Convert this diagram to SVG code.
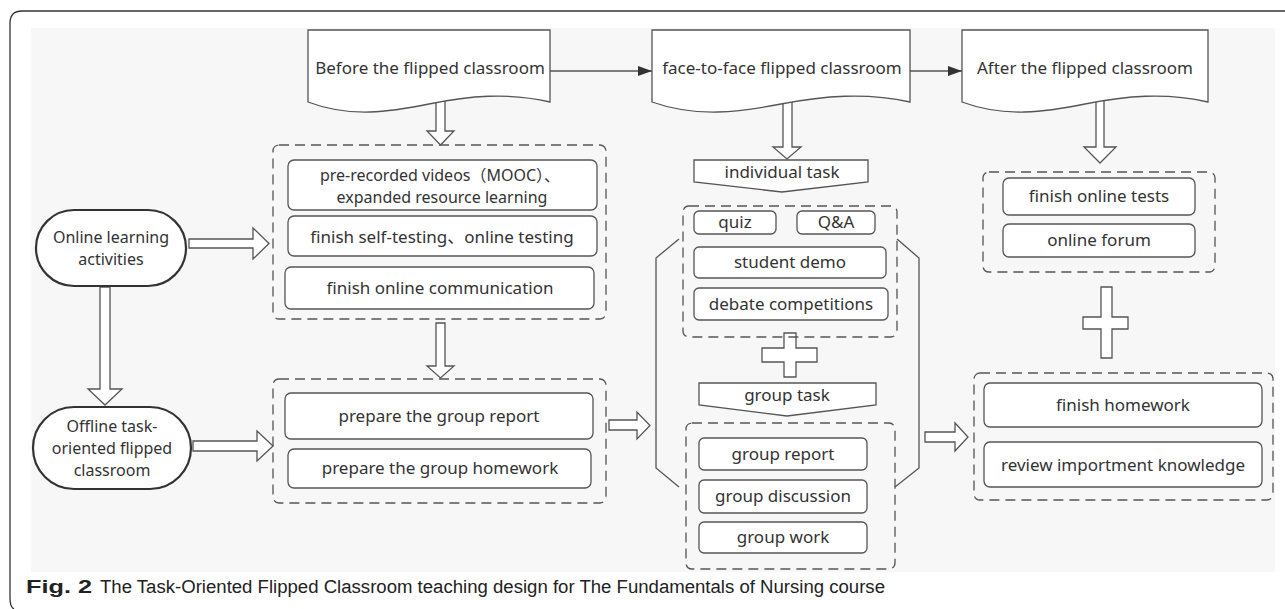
<svg xmlns="http://www.w3.org/2000/svg" width="1285" height="609" viewBox="0 0 1285 609">
<style>
  .t { font-family: "Noto Sans", "Noto Sans CJK SC", sans-serif; font-size: 17px; fill: #333; text-anchor: middle; }
  .m { font-size: 16px; }
  .box { fill: #fff; stroke: #555; stroke-width: 1.3; }
  .dash { fill: none; stroke: #555; stroke-width: 1.3; stroke-dasharray: 10 6; }
  .pill { fill: #fff; stroke: #333; stroke-width: 2.2; }
  .doc { fill: #fff; stroke: #555; stroke-width: 1.3; }
  .blk { fill: #fff; stroke: #555; stroke-width: 1.3; stroke-linejoin: miter; }
  .ln { fill: none; stroke: #555; stroke-width: 1.3; }
  .cap { font-family: "Liberation Sans", Arial, sans-serif; font-size: 18px; fill: #222; }
</style>
<defs>
  <marker id="ah" markerWidth="14" markerHeight="10" refX="14" refY="5" orient="auto" markerUnits="userSpaceOnUse">
    <path d="M0,0 L14,5 L0,10 Z" fill="#333"/>
  </marker>
</defs>
<rect x="0" y="0" width="1285" height="609" fill="#fff"/>
<path d="M1285,11 H22 Q10,11 10,23 V598 Q10,607 14,609" fill="none" stroke="#333" stroke-width="1.3"/>
<rect x="31" y="28" width="1244" height="544" fill="#f7f7f7"/>

<g id="connectors">
  <line class="ln" x1="550" y1="71" x2="652" y2="71" marker-end="url(#ah)"/>
  <line class="ln" x1="910" y1="71" x2="962" y2="71" marker-end="url(#ah)"/>
  <path class="blk" d="M436,100 V131 H427 L440.5,145 L454,131 H445 V100 Z"/>
  <path class="blk" d="M436,323 V366 H427 L440.5,378 L454,366 H445 V323 Z"/>
  <path class="blk" d="M783,100 V147 H773 L787,159 L801,147 H792 V100 Z"/>
  <path class="blk" d="M1096,97 V147 H1084 L1100,163 L1116,147 H1104 V97 Z"/>
  <path class="blk" d="M189,239 H253 V228 L269,243.5 L253,259 V248 H189 Z"/>
  <path class="blk" d="M100,287 V389 H88 L105,405 L122,389 H110 V287 Z"/>
  <path class="blk" d="M193,441 H257 V431 L273,446 L257,461 V451 H193 Z"/>
  <path class="blk" d="M609,420 H637 V412 L650,425.5 L637,439 V430 H609 Z"/>
  <path class="blk" d="M925,432 H955 V423 L968,437 L955,451 V442 H925 Z"/>
  <path class="blk" d="M784,333 H796 V348 H817 V362 H796 V377 H784 V362 H762 V348 H784 Z"/>
  <path class="blk" d="M1101,287 H1112 V317 H1128 V329 H1112 V358 H1101 V329 H1083 V317 H1101 Z"/>
  <path class="ln" d="M679,239 L656,258 V468 L679,487"/>
  <path class="ln" d="M897,239 L919,258 V468 L895,487"/>
</g>

<g id="doc-before">
  <path class="doc" d="M308,30 H550 V102 C508,92 468,96 429,104 C390,112 350,118 308,102 Z"/>
  <text class="t" x="430" y="74">Before the flipped classroom</text>
</g>
<g id="doc-face">
  <path class="doc" d="M652,30 H910 V102 C865,92 823,96 781,104 C740,112 697,118 652,102 Z"/>
  <text class="t" x="782" y="74">face-to-face flipped classroom</text>
</g>
<g id="doc-after">
  <path class="doc" d="M962,30 H1208 V102 C1165,92 1125,96 1085,104 C1046,112 1005,118 962,102 Z"/>
  <text class="t" x="1085" y="74">After the flipped classroom</text>
</g>

<g id="online">
  <rect class="pill" x="36" y="210" width="150" height="76" rx="38"/>
  <text class="t m" x="111" y="243">Online learning</text>
  <text class="t m" x="111" y="265">activities</text>
</g>
<g id="offline">
  <rect class="pill" x="33" y="407" width="158" height="82" rx="41"/>
  <text class="t m" x="112" y="432">Offline task-</text>
  <text class="t m" x="112" y="454">oriented flipped</text>
  <text class="t m" x="112" y="476">classroom</text>
</g>

<g id="pre-group">
  <rect class="dash" x="273" y="145" width="333" height="174" rx="6"/>
  <rect class="box" x="288" y="160" width="309" height="50" rx="6"/>
  <text class="t m" x="440" y="181">pre-recorded videos（MOOC）、</text>
  <text class="t m" x="442" y="203">expanded resource learning</text>
  <rect class="box" x="288" y="216" width="309" height="40" rx="6"/>
  <text class="t" x="442" y="243">finish self-testing、online testing</text>
  <rect class="box" x="285" y="267" width="309" height="42" rx="6"/>
  <text class="t" x="440" y="294">finish online communication</text>
</g>
<g id="prepare-group">
  <rect class="dash" x="273" y="379" width="333" height="124" rx="6"/>
  <rect class="box" x="285" y="393" width="308" height="46" rx="6"/>
  <text class="t" x="439" y="422">prepare the group report</text>
  <rect class="box" x="288" y="449" width="303" height="39" rx="6"/>
  <text class="t" x="440" y="474">prepare the group homework</text>
</g>

<g id="individual-task">
  <path class="box" d="M694,160 H868 V182 L782,192 L694,182 Z"/>
  <text class="t" x="782" y="178">individual task</text>
</g>
<g id="individual-group">
  <rect class="dash" x="683" y="206" width="214" height="131" rx="6"/>
  <rect class="box" x="694" y="211" width="82" height="23" rx="5"/>
  <text class="t" x="735" y="228">quiz</text>
  <rect class="box" x="797" y="211" width="78" height="23" rx="5"/>
  <text class="t" x="836" y="228">Q&amp;A</text>
  <rect class="box" x="694" y="247" width="192" height="31" rx="5"/>
  <text class="t" x="790" y="268">student demo</text>
  <rect class="box" x="694" y="288" width="194" height="32" rx="5"/>
  <text class="t" x="791" y="310">debate competitions</text>
</g>
<g id="group-task">
  <path class="box" d="M699,383 H876 V405 L787,416 L699,405 Z"/>
  <text class="t" x="787" y="401">group task</text>
</g>
<g id="group-group">
  <rect class="dash" x="686" y="423" width="209" height="146" rx="6"/>
  <rect class="box" x="699" y="438" width="168" height="32" rx="5"/>
  <text class="t" x="783" y="460">group report</text>
  <rect class="box" x="699" y="480" width="168" height="33" rx="5"/>
  <text class="t" x="783" y="502">group discussion</text>
  <rect class="box" x="699" y="522" width="168" height="31" rx="5"/>
  <text class="t" x="783" y="543">group work</text>
</g>

<g id="after-online">
  <rect class="dash" x="983" y="172" width="232" height="100" rx="6"/>
  <rect class="box" x="1003" y="178" width="192" height="37" rx="6"/>
  <text class="t" x="1099" y="202">finish online tests</text>
  <rect class="box" x="1003" y="224" width="192" height="33" rx="6"/>
  <text class="t" x="1099" y="246">online forum</text>
</g>
<g id="after-homework">
  <rect class="dash" x="974" y="373" width="299" height="127" rx="6"/>
  <rect class="box" x="984" y="383" width="278" height="44" rx="6"/>
  <text class="t" x="1123" y="411">finish homework</text>
  <rect class="box" x="984" y="442" width="278" height="45" rx="6"/>
  <text class="t" x="1123" y="471">review importment knowledge</text>
</g>

<g id="caption">
  <text class="cap" x="26" y="593" font-weight="bold" textLength="66" lengthAdjust="spacingAndGlyphs">Fig. 2</text>
  <text class="cap" x="100" y="593" textLength="785" lengthAdjust="spacingAndGlyphs">The Task-Oriented Flipped Classroom teaching design for The Fundamentals of Nursing course</text>
</g>
</svg>
